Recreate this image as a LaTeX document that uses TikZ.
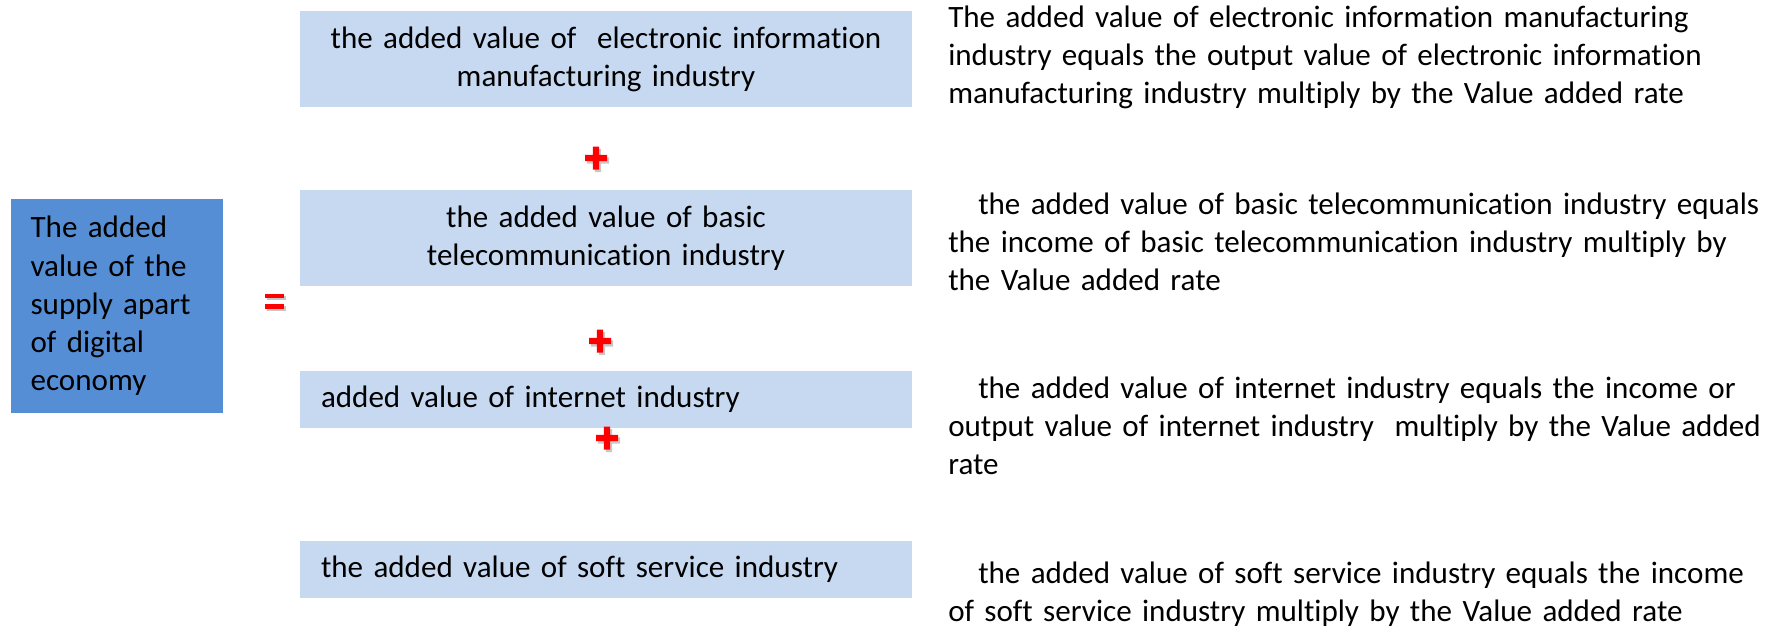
\documentclass[tikz,border=0pt]{standalone}
\usepackage{fontspec}
\setmainfont{Carlito}[Ligatures=NoCommon]
\definecolor{darkbox}{RGB}{85,142,213}
\definecolor{lightbox}{RGB}{198,217,241}
\definecolor{signred}{RGB}{255,0,0}

\begin{document}
\begin{tikzpicture}[x=0.75pt,y=-0.75pt,
  every node/.style={font=\fontsize{23.3}{28.65}\selectfont, text=black},
  sumbox/.style={fill=darkbox, inner xsep=14.7pt, inner ysep=0pt,
    text width=129.6pt, align=left, minimum height=160.5pt},
  termbox/.style={fill=lightbox, inner xsep=15.75pt, inner ysep=0pt,
    text width=427.5pt, minimum height=#1},
  termbox/.default=72pt,
  remark/.style={anchor=base west, inner sep=0pt, text width=700pt, align=left},
  signshadow/.style={fill=black, opacity=0.22},
  pics/plusmark/.style={code={
    \fill[signshadow] (-11+2,-3.2+2.5) -- (-3.2+2,-3.2+2.5) -- (-3.2+2,-11.5+2.5)
      -- (3.2+2,-11.5+2.5) -- (3.2+2,-3.2+2.5) -- (11+2,-3.2+2.5) -- (11+2,3.2+2.5)
      -- (3.2+2,3.2+2.5) -- (3.2+2,11.5+2.5) -- (-3.2+2,11.5+2.5) -- (-3.2+2,3.2+2.5)
      -- (-11+2,3.2+2.5) -- cycle;
    \fill[signred] (-11,-3.2) -- (-3.2,-3.2) -- (-3.2,-11.5) -- (3.2,-11.5)
      -- (3.2,-3.2) -- (11,-3.2) -- (11,3.2) -- (3.2,3.2) -- (3.2,11.5)
      -- (-3.2,11.5) -- (-3.2,3.2) -- (-11,3.2) -- cycle;
  }}
]
\useasboundingbox (0,0) rectangle (1777,628);

% left-hand total
\node[sumbox] (total) at (117,306)
  {The added\\value of the\\supply apart\\of digital\\economy};

% equals sign
\fill[signshadow] (267,295.5) rectangle (286,300);
\fill[signshadow] (267,306) rectangle (286,310.5);
\fill[signred] (265,293.5) rectangle (284,298);
\fill[signred] (265,304) rectangle (284,308.5);

% the four component industries
\node[termbox, align=center] (elec) at (606,59)
  {the added value of\ \ electronic information\\manufacturing industry};
\node[termbox, align=center] (tele) at (606,238)
  {the added value of basic\\telecommunication industry};
\node[termbox=42.75pt, align=left] (inet) at (606,399.5)
  {added value of internet industry};
\node[termbox=42.75pt, align=left] (soft) at (606,569.5)
  {the added value of soft service industry};

% plus signs between the components
\pic at (596,158) {plusmark};
\pic at (600,341) {plusmark};
\pic at (607,438) {plusmark};

% explanations
\node[remark] (elecnote) at (948,27)
  {The added value of electronic information manufacturing\\
   industry equals the output value of electronic information\\
   manufacturing industry multiply by the Value added rate};
\node[remark] (telenote) at (948,214)
  {\hspace*{22.5pt}the added value of basic telecommunication industry equals\\
   the income of basic telecommunication industry multiply by\\
   the Value added rate};
\node[remark] (inetnote) at (948,398)
  {\hspace*{22.5pt}the added value of internet industry equals the income or\\
   output value of internet industry\ \ multiply by the Value added\\
   rate};
\node[remark] (softnote) at (948,583)
  {\hspace*{22.5pt}the added value of soft service industry equals the income\\
   of soft service industry multiply by the Value added rate};
\end{tikzpicture}
\end{document}
